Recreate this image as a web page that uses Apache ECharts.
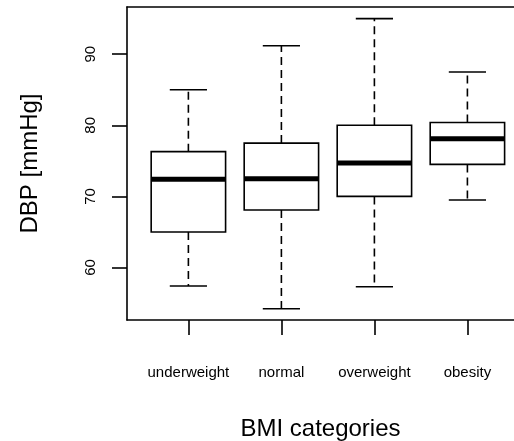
<!DOCTYPE html>
<html>
<head>
<meta charset="utf-8">
<script src="https://cdn.jsdelivr.net/npm/echarts@6/dist/echarts.min.js"></script>
<style>html,body{margin:0;padding:0;background:#fff}#c{width:514px;height:441px}</style>
</head>
<body>
<div id="c"></div>
<script>
const categories = ['underweight', 'normal', 'overweight', 'obesity'];
const whiskerLow = [57.4, 54.2, 57.3, 69.5];
const q1 = [65.0, 68.1, 70.0, 74.5];
const median = [72.4, 72.5, 74.7, 78.1];
const q3 = [76.3, 77.5, 80.0, 80.4];
const whiskerHigh = [85.0, 91.2, 95.0, 87.5];
const yTicks = [60, 70, 80, 90];

const FONT = "'Liberation Sans', Arial, Helvetica, sans-serif";
const data = categories.map((c, i) => [i + 1, whiskerLow[i], q1[i], median[i], q3[i], whiskerHigh[i]]);

function renderItem(params, api) {
  const x = api.value(0);
  const lo = api.coord([x, api.value(1)]);
  const b1 = api.coord([x, api.value(2)]);
  const md = api.coord([x, api.value(3)]);
  const b3 = api.coord([x, api.value(4)]);
  const hi = api.coord([x, api.value(5)]);
  const halfBox = (api.coord([x + 0.4, 0])[0] - api.coord([x, 0])[0]);
  const halfCap = halfBox / 2;
  const cx = lo[0];
  const solid = { stroke: '#000', lineWidth: 1.6, fill: null };
  const dashed = { stroke: '#000', lineWidth: 1.6, lineDash: [8, 5] };
  return {
    type: 'group',
    children: [
      { type: 'line', shape: { x1: cx, y1: b1[1], x2: cx, y2: lo[1] }, style: dashed },
      { type: 'line', shape: { x1: cx, y1: b3[1], x2: cx, y2: hi[1] }, style: dashed },
      { type: 'line', shape: { x1: cx - halfCap, y1: lo[1], x2: cx + halfCap, y2: lo[1] }, style: solid },
      { type: 'line', shape: { x1: cx - halfCap, y1: hi[1], x2: cx + halfCap, y2: hi[1] }, style: solid },
      { type: 'rect', shape: { x: cx - halfBox, y: b3[1], width: 2 * halfBox, height: b1[1] - b3[1] }, style: { stroke: '#000', lineWidth: 1.6, fill: '#fff' } },
      { type: 'line', shape: { x1: cx - halfBox, y1: md[1], x2: cx + halfBox, y2: md[1] }, style: { stroke: '#000', lineWidth: 5 } }
    ]
  };
}

const X_MIN = 0.34, X_MAX = 4.501;
const frameLine = { show: true, lineStyle: { color: '#000', width: 1.6 } };

const chart = echarts.init(document.getElementById('c'), null, { renderer: 'canvas' });
chart.setOption({
  animation: false,
  backgroundColor: '#fff',
  grid: { left: 127, top: 7, right: 0, height: 313, show: false, containLabel: false, outerBoundsMode: 'none' },
  xAxis: [{
    type: 'value', min: X_MIN, max: X_MAX, position: 'bottom',
    axisLine: frameLine,
    splitLine: { show: false },
    axisTick: { show: true, length: 15, inside: false, customValues: [1, 2, 3, 4], lineStyle: { color: '#000', width: 1.6 } },
    axisLabel: { customValues: [1, 2, 3, 4], formatter: v => categories[Math.round(v) - 1], margin: 45, color: '#000', fontSize: 15, fontFamily: FONT },
    name: 'BMI categories', nameLocation: 'middle', nameGap: 97,
    nameTextStyle: { fontSize: 24, color: '#000', fontFamily: FONT }
  }, {
    type: 'value', min: X_MIN, max: X_MAX, position: 'top',
    axisLine: frameLine,
    splitLine: { show: false },
    axisTick: { show: false },
    axisLabel: { show: false }
  }],
  yAxis: {
    type: 'value', min: 52.62, max: 96.64,
    axisLine: frameLine,
    splitLine: { show: false },
    axisTick: { show: true, length: 15, inside: false, customValues: yTicks, lineStyle: { color: '#000', width: 1.6 } },
    axisLabel: { customValues: yTicks, rotate: 90, margin: 29, color: '#000', fontSize: 15, fontFamily: FONT },
    name: 'DBP [mmHg]', nameLocation: 'middle', nameGap: 85,
    nameTextStyle: { fontSize: 24, color: '#000', fontFamily: FONT }
  },
  series: [{
    type: 'custom',
    xAxisIndex: 0,
    renderItem: renderItem,
    data: data,
    encode: { x: 0, y: [1, 2, 3, 4, 5] },
    clip: false
  }]
});
</script>
</body>
</html>
